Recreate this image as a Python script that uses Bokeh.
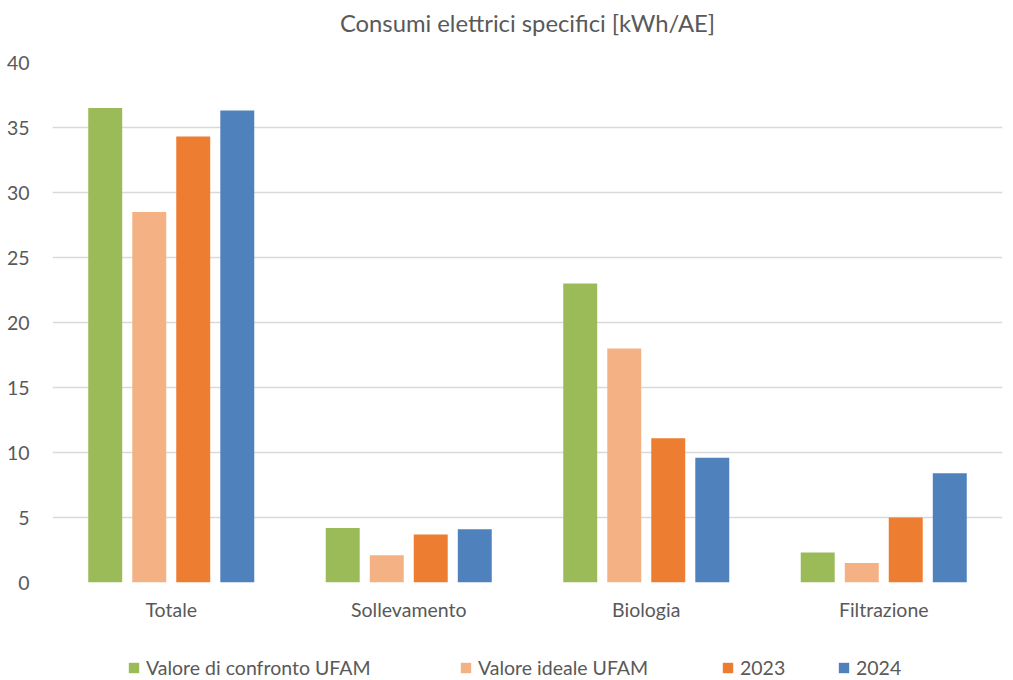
from bokeh.plotting import figure
from bokeh.layouts import column
from bokeh.models import ColumnDataSource, FactorRange, Range1d, Legend, LegendItem, SingleIntervalTicker, Label
from bokeh.transform import dodge
from bokeh.embed import file_html
from bokeh.resources import INLINE

categories = ["Totale", "Sollevamento", "Biologia", "Filtrazione"]
series_names = ["Valore di confronto UFAM", "Valore ideale UFAM", "2023", "2024"]
confronto = [36.5, 4.2, 23.0, 2.3]
ideale = [28.5, 2.1, 18.0, 1.5]
y2023 = [34.3, 3.7, 11.1, 5.0]
y2024 = [36.3, 4.1, 9.6, 8.4]
colors = ["#9BBB59", "#F4B183", "#ED7D31", "#4F81BD"]
title_text = "Consumi elettrici specifici [kWh/AE]"

src = ColumnDataSource(dict(cat=categories, a=confronto, b=ideale, c=y2023, d=y2024))

FONT = "Lato"
TXT = "#595959"


def strip(height):
    f = figure(width=1005, height=height, output_backend="svg", toolbar_location=None,
               x_range=Range1d(0, 1), y_range=Range1d(0, 1),
               x_axis_type=None, y_axis_type=None,
               min_border_left=0, min_border_right=0, min_border_top=0, min_border_bottom=0)
    f.outline_line_color = None
    f.grid.grid_line_color = None
    f.border_fill_color = "white"
    f.background_fill_color = "white"
    return f


# title strip
tp = strip(44)
tp.add_layout(Label(x=0.5, y=0.5, text=title_text, text_align="center", text_baseline="middle",
                    text_font=FONT, text_font_size="23.8px", text_color=TXT))

p = figure(x_range=FactorRange(*categories), y_range=Range1d(0, 40),
           width=1005, height=586, output_backend="svg", toolbar_location=None,
           min_border_left=52, min_border_right=3, min_border_top=18, min_border_bottom=48)
p.outline_line_color = None
p.background_fill_color = "white"
p.border_fill_color = "white"

offsets = [-0.278, -0.0926, 0.0926, 0.278]
cols = ["a", "b", "c", "d"]
for off, col, color in zip(offsets, cols, colors):
    p.vbar(x=dodge("cat", off, range=p.x_range), top=col, width=0.143, source=src,
           fill_color=color, line_color=None)

p.yaxis.ticker = SingleIntervalTicker(interval=5)
p.ygrid.grid_line_color = "#D9D9D9"
p.ygrid.grid_line_width = 1.3
p.xgrid.grid_line_color = None
for ax in (p.xaxis[0], p.yaxis[0]):
    ax.axis_line_color = None
    ax.major_tick_line_color = None
    ax.minor_tick_line_color = None
    ax.major_label_text_font = FONT
    ax.major_label_text_font_size = "19.5px"
    ax.major_label_text_color = TXT
p.yaxis.major_label_standoff = 17
p.xaxis.major_label_standoff = 9

# legend strip below the chart
lp = strip(50)
legend_x = [75, 407, 669, 785]
for name, color, lx in zip(series_names, colors, legend_x):
    # zero-height swatch renderer: only its legend glyph is visible
    dummy = lp.vbar(x=[0.5], top=[0], bottom=[0], width=0.1, fill_color=color, line_color=None)
    lg = Legend(items=[LegendItem(label=name, renderers=[dummy])], location=(lx, 1))
    lg.label_text_font = FONT
    lg.label_text_font_size = "19.5px"
    lg.label_text_color = TXT
    lg.glyph_width = 13
    lg.glyph_height = 13
    lg.label_standoff = 6
    lg.border_line_color = None
    lg.background_fill_alpha = 0
    lg.padding = 0
    lg.margin = 0
    lp.add_layout(lg)

layout = column(tp, p, lp, spacing=0)
open("out.html", "w").write(file_html(layout, INLINE))
